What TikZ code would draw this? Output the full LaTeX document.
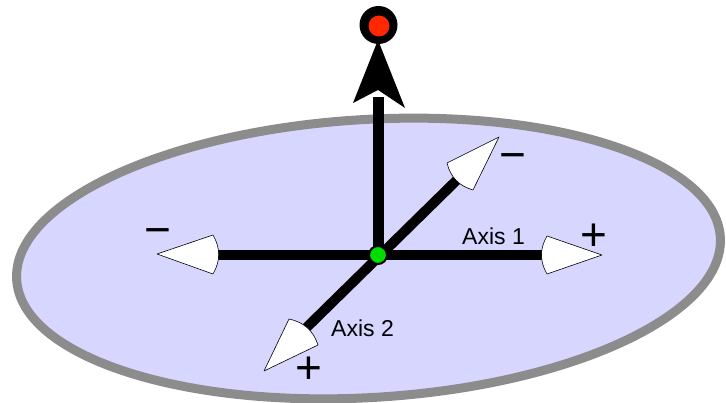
\documentclass[tikz,border=0pt]{standalone}
\usepackage{fontspec}
\setmainfont{Liberation Sans}
\definecolor{plane}{RGB}{214,214,255}
\definecolor{rim}{RGB}{140,140,140}
\definecolor{dotgreen}{RGB}{0,220,0}
\definecolor{dotred}{RGB}{255,40,0}
\begin{document}
\begin{tikzpicture}[x=1pt, y=1pt,
  shaft/.style={line width=10pt, black},
  cone/.style={fill=white, draw=black, line width=0.6pt, line join=round},
  lbl/.style={font=\fontsize{23}{23}\selectfont, inner sep=0pt},
  sgn/.style={font=\fontsize{46}{46}\selectfont, inner sep=0pt}]
\useasboundingbox (0,0) rectangle (726,402);
% Ebene
\draw[rim, fill=plane, line width=9pt, rotate around={3.45:(368.5,143.5)}]
  (368.5,143.5) ellipse [x radius=352.5pt, y radius=139pt];
% Punkte
\coordinate (O) at (378,147);
\coordinate (baseL) at (214,147);
\coordinate (baseR) at (546,147);
\coordinate (baseU) at (462,227);
\coordinate (baseD) at (302,70);
\coordinate (baseT) at (378,305);
% Achsen
\draw[shaft] (baseL) -- (baseR);
\draw[shaft] (baseD) -- (baseU);
\draw[line width=11pt] (O) -- (baseT);
% Pfeilspitzen
\draw[cone] (157,148) coordinate (tipL) -- (213,167) to[bend left=30] (213,128) -- cycle;
\draw[cone] (602,147) coordinate (tipR) -- (547,166) to[bend right=30] (547,128) -- cycle;
\draw[cone] (499,265) coordinate (tipU) -- (447,239) to[bend right=30] (473,212) -- cycle;
\draw[cone] (264,31) coordinate (tipD) -- (289,83) to[bend left=30] (318,57) -- cycle;
\fill (378,362) coordinate (tipT) -- (353,299) -- (378,312) -- (405,294) -- cycle;
% Kopf oben
\fill (378.5,377) circle [radius=19pt];
\fill[dotred] (379,376) circle [radius=10.5pt];
% Ursprung
\filldraw[fill=dotgreen, draw=black, line width=2pt] (O) circle [radius=9pt];
% Beschriftung
\node[lbl, anchor=base] (ax1) at (493.5,157) {Axis 1};
\node[lbl, anchor=base] (ax2) at (362.5,65) {Axis 2};
\node[sgn] (plusR) at (594,165) {+};
\node[sgn] (minusU) at (513,240) {−};
\node[sgn] (minusL) at (158,165) {−};
\node[sgn] (plusD) at (308.5,32) {+};
\end{tikzpicture}
\end{document}
